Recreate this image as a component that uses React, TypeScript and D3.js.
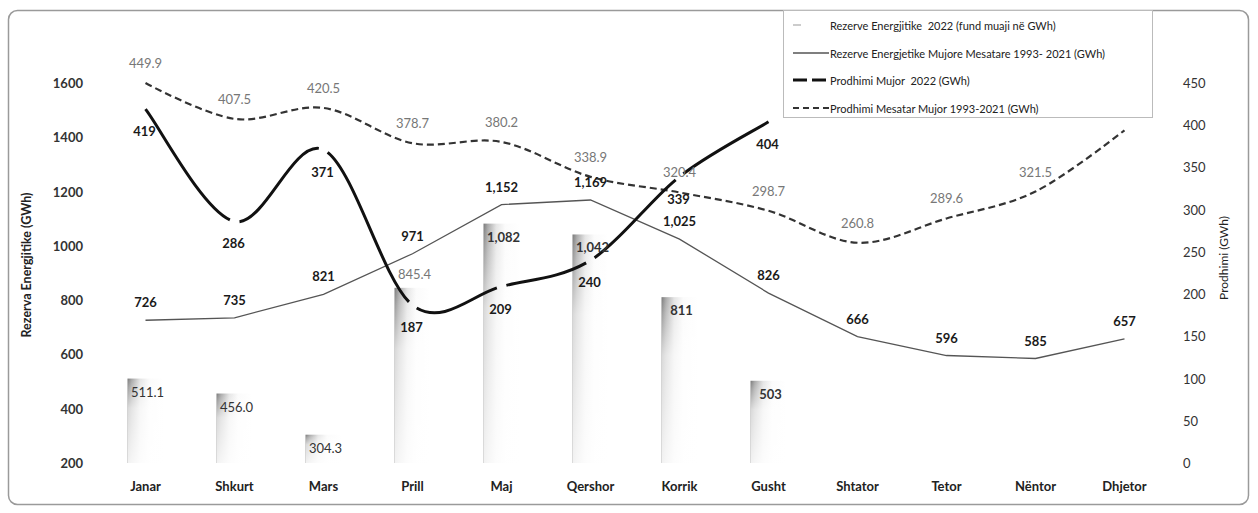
import React, { useEffect, useRef } from 'react';
import * as d3 from 'd3';

const months = ['Janar', 'Shkurt', 'Mars', 'Prill', 'Maj', 'Qershor', 'Korrik', 'Gusht', 'Shtator', 'Tetor', 'Nëntor', 'Dhjetor'];
const reserves2022 = [511.1, 456.0, 304.3, 845.4, 1082, 1042, 811, 503];
const reserves2022Labels = ['511.1', '456.0', '304.3', '845.4', '1,082', '1,042', '811', '503'];
const reservesAvg = [726, 735, 821, 971, 1152, 1169, 1025, 826, 666, 596, 585, 657];
const production2022 = [419, 286, 371, 187, 209, 240, 339, 404];
const productionAvg = [449.9, 407.5, 420.5, 378.7, 380.2, 338.9, 320.4, 298.7, 260.8, 289.6, 321.5, 394];
const leftTicks = [200, 400, 600, 800, 1000, 1200, 1400, 1600];
const rightTicks = [0, 50, 100, 150, 200, 250, 300, 350, 400, 450];
const legendLabels = [
  'Rezerve Energjitike  2022 (fund muaji në GWh)',
  'Rezerve Energjetike Mujore Mesatare 1993- 2021 (GWh)',
  'Prodhimi Mujor  2022 (GWh)',
  'Prodhimi Mesatar Mujor 1993-2021 (GWh)',
];
const leftTitle = 'Rezerva Energjitike (GWh)';
const rightTitle = 'Prodhimi (GWh)';

const FONT = 'Lato, "Open Sans", sans-serif';

export default function App() {
  const ref = useRef<SVGSVGElement | null>(null);

  useEffect(() => {
    const svg = d3.select(ref.current);
    svg.selectAll('*').remove();

    const x = d3.scalePoint<string>().domain(months).range([101, 1169]).padding(0.5);
    const yL = d3.scaleLinear().domain([200, 1600]).range([463, 83]);
    const yR = d3.scaleLinear().domain([0, 450]).range([463, 83]);

    const defs = svg.append('defs');
    const gh = defs.append('linearGradient').attr('id', 'barH').attr('x1', 0).attr('x2', 1).attr('y1', 0).attr('y2', 0);
    [[0, '#7a7a7a'], [0.12, '#a8a8a8'], [0.35, '#e4e4e4'], [0.6, '#fbfbfb'], [1, '#ffffff']].forEach(([o, c]) =>
      gh.append('stop').attr('offset', o as number).attr('stop-color', c as string));
    const gv = defs.append('linearGradient').attr('id', 'barV').attr('x1', 0).attr('x2', 0).attr('y1', 0).attr('y2', 1);
    [[0, 0], [0.1, 0.25], [0.35, 0.7], [1, 0.9]].forEach(([o, a]) =>
      gv.append('stop').attr('offset', o).attr('stop-color', '#fff').attr('stop-opacity', a));

    // outer border
    svg.append('rect').attr('x', 8.5).attr('y', 10.5).attr('width', 1240).attr('height', 494)
      .attr('rx', 9).attr('fill', '#fff').attr('stroke', '#9a9a9a').attr('stroke-width', 1.5);

    // bars
    const bw = 36;
    const bars = svg.append('g');
    reserves2022.forEach((v, i) => {
      const cx = x(months[i]) as number;
      const y0 = yL(v);
      const h = yL(200) - y0;
      bars.append('rect').attr('x', cx - bw / 2).attr('y', y0).attr('width', bw).attr('height', h).attr('fill', 'url(#barH)');
      bars.append('rect').attr('x', cx - bw / 2).attr('y', y0).attr('width', bw).attr('height', h).attr('fill', 'url(#barV)');
    });

    // avg reserves line
    const lineL = d3.line<number>().x((_, i) => x(months[i]) as number).y((d) => yL(d));
    svg.append('path').attr('d', lineL(reservesAvg)).attr('fill', 'none').attr('stroke', '#555').attr('stroke-width', 1.3);

    // avg production dashed smooth
    const lineR = d3.line<number>().x((_, i) => x(months[i]) as number).y((d) => yR(d)).curve(d3.curveCatmullRom.alpha(0));
    svg.append('path').attr('d', lineR(productionAvg)).attr('fill', 'none').attr('stroke', '#333')
      .attr('stroke-width', 2.2).attr('stroke-dasharray', '7 4');

    // production 2022: smooth segments with small gaps at each point
    const pts = production2022.map((v, i) => [x(months[i]) as number, yR(v)]);
    const n = pts.length;
    const gap = 5;
    for (let i = 0; i < n - 1; i++) {
      const p0 = pts[Math.max(0, i - 1)], p1 = pts[i], p2 = pts[i + 1], p3 = pts[Math.min(n - 1, i + 2)];
      const c1 = [p1[0] + (p2[0] - p0[0]) / 6, p1[1] + (p2[1] - p0[1]) / 6];
      const c2 = [p2[0] - (p3[0] - p1[0]) / 6, p2[1] - (p3[1] - p1[1]) / 6];
      const p = d3.path();
      p.moveTo(p1[0], p1[1]);
      p.bezierCurveTo(c1[0], c1[1], c2[0], c2[1], p2[0], p2[1]);
      const seg = svg.append('path').attr('d', p.toString()).attr('fill', 'none').attr('stroke', '#111')
        .attr('stroke-width', 3).attr('stroke-linecap', 'butt');
      const L = (seg.node() as SVGPathElement).getTotalLength();
      const s = i === 0 ? 0 : gap;
      const e = i === n - 2 ? 0 : gap;
      seg.attr('stroke-dasharray', `0 ${s} ${Math.max(0, L - s - e)} ${e + 1000}`);
    }

    const txt = (g: any, xx: number, yy: number, t: string, opts: any = {}) =>
      g.append('text').attr('x', xx).attr('y', yy).text(t)
        .attr('font-family', FONT).attr('font-size', opts.size ?? 13)
        .attr('font-weight', opts.weight ?? 'normal').attr('fill', opts.fill ?? '#222')
        .attr('text-anchor', opts.anchor ?? 'middle').attr('dominant-baseline', 'central')
        .style('white-space', 'pre');

    const labels = svg.append('g');
    // bar labels
    reserves2022.forEach((v, i) => {
      const cx = x(months[i]) as number;
      const above = i === 3;
      txt(labels, cx + 2, yL(v) + (above ? -14 : 13), reserves2022Labels[i], {
        fill: above ? '#777' : '#333', weight: i > 3 ? 'bold' : 'normal',
      });
    });
    // avg reserves labels
    reservesAvg.forEach((v, i) => {
      txt(labels, x(months[i]) as number, yL(v) - 18, d3.format(',')(v), { weight: 'bold', fill: '#1a1a1a' });
    });
    // production 2022 labels
    production2022.forEach((v, i) => {
      txt(labels, (x(months[i]) as number) - 1, yR(v) + 22, d3.format('d')(v), { weight: 'bold', fill: '#1a1a1a' });
    });
    // production avg labels
    productionAvg.forEach((v, i) => {
      txt(labels, x(months[i]) as number, yR(v) - 20, d3.format('.1f')(v), { fill: '#777' });
    });

    // axes
    const ax = svg.append('g');
    leftTicks.forEach((t) => txt(ax, 83, yL(t), String(t), { weight: 'bold', anchor: 'end', fill: '#333' }));
    rightTicks.forEach((t) => txt(ax, 1183, yR(t), String(t), { anchor: 'start', fill: '#333' }));
    months.forEach((m) => txt(ax, x(m) as number, 486, m, { weight: 'bold', fill: '#222' }));
    ax.append('text').attr('transform', 'translate(26,265) rotate(-90)').text(leftTitle)
      .attr('font-family', FONT).attr('font-size', 12.5).attr('font-weight', 'bold').attr('fill', '#222')
      .attr('text-anchor', 'middle').attr('dominant-baseline', 'central');
    ax.append('text').attr('transform', 'translate(1223,258) rotate(-90)').text(rightTitle)
      .attr('font-family', FONT).attr('font-size', 12).attr('fill', '#222')
      .attr('text-anchor', 'middle').attr('dominant-baseline', 'central');

    // legend
    const lg = svg.append('g');
    lg.append('rect').attr('x', 783.5).attr('y', 10.5).attr('width', 369).attr('height', 107)
      .attr('fill', '#fff').attr('stroke', '#bbb').attr('stroke-width', 1);
    const rowsY = [25, 53, 80, 108];
    lg.append('rect').attr('x', 793).attr('y', rowsY[0] - 1).attr('width', 8).attr('height', 2).attr('fill', '#ccc');
    lg.append('line').attr('x1', 793).attr('x2', 829).attr('y1', rowsY[1]).attr('y2', rowsY[1]).attr('stroke', '#555').attr('stroke-width', 1.3);
    lg.append('line').attr('x1', 793).attr('x2', 829).attr('y1', rowsY[2]).attr('y2', rowsY[2]).attr('stroke', '#111')
      .attr('stroke-width', 3).attr('stroke-dasharray', '14 5');
    lg.append('line').attr('x1', 793).attr('x2', 829).attr('y1', rowsY[3]).attr('y2', rowsY[3]).attr('stroke', '#333')
      .attr('stroke-width', 2.2).attr('stroke-dasharray', '6 4');
    legendLabels.forEach((t, i) => txt(lg, 830, rowsY[i], t, { size: 11, anchor: 'start', fill: '#222' }));
  }, []);

  return <svg ref={ref} width={1258} height={513} style={{ display: 'block', position: 'absolute', left: 0, top: 0 }} />;
}
